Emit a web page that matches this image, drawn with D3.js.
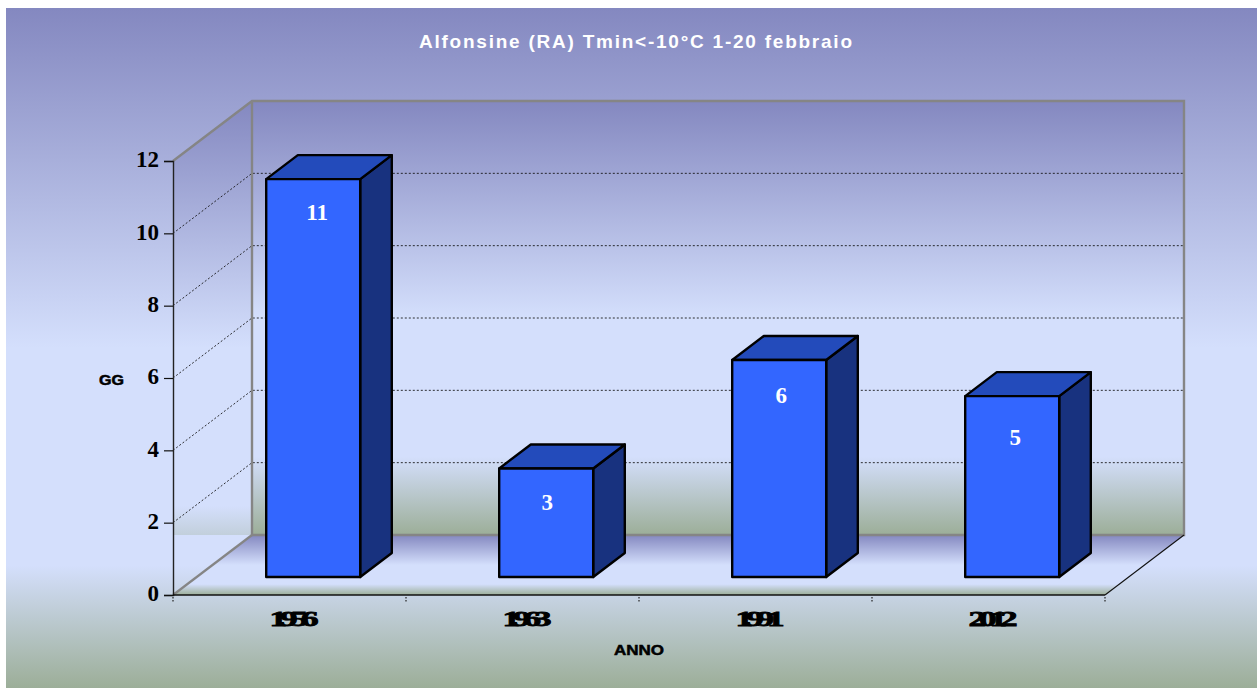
<!DOCTYPE html>
<html>
<head>
<meta charset="utf-8">
<script src="https://cdn.jsdelivr.net/npm/d3@7"></script>
<style>
html,body{margin:0;padding:0;background:#fff;overflow:hidden}
svg{display:block}
</style>
</head>
<body>
<svg id="chart" width="1257" height="688"></svg>
<script>
const categories = ["1956", "1963", "1991", "2012"];
const values = [11, 3, 6, 5];
const yTicks = [0, 2, 4, 6, 8, 10, 12];
const gridValues = [2, 4, 6, 8, 10];
const titleText = "Alfonsine (RA) Tmin<-10°C 1-20 febbraio";
const xTitle = "ANNO";
const yTitle = "GG";

const svg = d3.select("#chart");
const defs = svg.append("defs");
const BLUE = "#8488c0", LIGHT = "#d4dffc", GREEN = "#9cae98";

function gradient(id, y1, y2) {
  const g = defs.append("linearGradient").attr("id", id)
    .attr("gradientUnits", "userSpaceOnUse")
    .attr("x1", 0).attr("x2", 0).attr("y1", y1).attr("y2", y2);
  [[0, BLUE], [0.5, LIGHT], [0.82, LIGHT], [1, GREEN]].forEach(([o, c]) =>
    g.append("stop").attr("offset", o).attr("stop-color", c));
}
gradient("panel", 8, 688);
gradient("wall", 101, 535);
gradient("side", 101, 595);
gradient("floor", 535, 595);

svg.append("rect").attr("x", 6).attr("y", 8).attr("width", 1251).attr("height", 680).attr("fill", "url(#panel)");

// scales and oblique projection
const x = d3.scaleBand().domain(categories).range([173, 1105]).paddingInner(0.5966).paddingOuter(0.2983);
const y = d3.scaleLinear().domain([0, 12]).range([595, 161]);
const depthX = d3.scaleLinear().domain([0, 1]).range([0, 79]);
const depthY = d3.scaleLinear().domain([0, 1]).range([0, -60]);
const proj = (px, v, d) => [px + depthX(d), y(v) + depthY(d)];
const [xL, xR] = x.range();
const path = d3.line();
const closed = pts => path(pts) + "Z";

// floor
svg.append("path").attr("d", closed([proj(xL,0,0), proj(xL,0,1), proj(xR,0,1), proj(xR,0,0)])).attr("fill", "url(#floor)");
// side wall (painted only above the floor line)
const sideTopBack = proj(xL,12,1), sideBotBack = proj(xL,0,1);
svg.append("path").attr("d", closed([proj(xL,12,0), sideTopBack, sideBotBack, [xL, sideBotBack[1]]])).attr("fill", "url(#side)");
// back wall
svg.append("path").attr("d", closed([proj(xL,12,1), proj(xR,12,1), proj(xR,0,1), proj(xL,0,1)])).attr("fill", "url(#wall)");

// gridlines
svg.append("g").selectAll("path").data(gridValues).join("path")
  .attr("d", v => path([proj(xL,v,0), proj(xL,v,1), proj(xR,v,1)]))
  .attr("fill", "none").attr("stroke", "#111").attr("stroke-opacity", 0.85).attr("stroke-width", 1).attr("stroke-dasharray", "2,2");

// wall frame
const GREY = "#858585";
svg.append("path").attr("d", path([proj(xL,12,0), proj(xL,12,1), proj(xR,12,1), proj(xR,0,1), proj(xL,0,1), proj(xL,12,1)]))
  .attr("fill", "none").attr("stroke", GREY).attr("stroke-width", 2.4);
svg.append("path").attr("d", path([proj(xL,0,0), proj(xL,0,1)])).attr("fill", "none").attr("stroke", GREY).attr("stroke-width", 2.2);
svg.append("path").attr("d", path([proj(xR,0,0), proj(xR,0,1)])).attr("fill", "none").attr("stroke", "#111").attr("stroke-width", 1.1);

// axes
const yAxis = svg.append("g").attr("transform", `translate(${xL},0)`)
  .call(d3.axisLeft(y).tickValues(yTicks).tickSize(9).tickPadding(5).tickFormat(d3.format("d")));
yAxis.select(".domain").attr("stroke", "#222").attr("stroke-width", 1.4);
yAxis.selectAll(".tick line").attr("stroke", "#111").attr("stroke-width", 1.2);
yAxis.selectAll(".tick text").attr("font-family", "'Liberation Serif', serif").attr("font-weight", "bold")
  .attr("font-size", 23).attr("fill", "#000").attr("dy", "0.25em");

svg.append("path").attr("d", path([proj(xL,0,0), proj(xR,0,0)])).attr("stroke", "#111").attr("stroke-width", 1.4).attr("fill", "none");
const step = x.step();
svg.append("g").selectAll("line").data(d3.range(categories.length + 1)).join("line")
  .attr("x1", i => xL + i * step).attr("x2", i => xL + i * step)
  .attr("y1", y(0) + 2).attr("y2", y(0) + 7)
  .attr("stroke", "#222").attr("stroke-width", 1.2).attr("stroke-dasharray", "1.5,1.5");

// bars
const D0 = 0.3, D1 = 0.7;
const bars = svg.append("g").selectAll("g").data(categories.map((c, i) => ({c, v: values[i]}))).join("g")
  .attr("stroke", "#000").attr("stroke-width", 2.4).attr("stroke-linejoin", "round");
bars.append("path").attr("fill", "#18327f").attr("d", d => {
  const r = x(d.c) + x.bandwidth();
  return closed([proj(r,0,D0), proj(r,0,D1), proj(r,d.v,D1), proj(r,d.v,D0)]);
});
bars.append("path").attr("fill", "#234bbb").attr("d", d => {
  const l = x(d.c), r = l + x.bandwidth();
  return closed([proj(l,d.v,D0), proj(l,d.v,D1), proj(r,d.v,D1), proj(r,d.v,D0)]);
});
bars.append("path").attr("fill", "#3366ff").attr("d", d => {
  const l = x(d.c), r = l + x.bandwidth();
  return closed([proj(l,0,D0), proj(r,0,D0), proj(r,d.v,D0), proj(l,d.v,D0)]);
});

// value labels
const labelNudgeX = [4, 1, 2, 3], labelDrop = [41, 41.5, 43, 49];
svg.append("g").selectAll("text").data(values).join("text")
  .attr("x", (v, i) => proj(x(categories[i]) + x.bandwidth() / 2, v, D0)[0] + labelNudgeX[i])
  .attr("y", (v, i) => proj(0, v, D0)[1] + labelDrop[i])
  .attr("text-anchor", "middle").attr("fill", "#fff")
  .attr("font-family", "'Liberation Serif', serif").attr("font-weight", "bold").attr("font-size", 23)
  .text(v => v);

// squeezed category labels
svg.append("g").selectAll("text").data(categories).join("text")
  .attr("transform", c => `translate(${x(c) + x.bandwidth() / 2 + 1},626) scale(1.6,1)`)
  .attr("text-anchor", "middle").attr("fill", "#000")
  .attr("font-family", "'Liberation Serif', serif").attr("font-weight", "bold").attr("font-size", 22)
  .attr("letter-spacing", "-4.4px").attr("stroke", "#000").attr("stroke-width", 0.8)
  .text(c => c);

// titles
svg.append("text").attr("x", 419).attr("y", 48).attr("textLength", 433).attr("lengthAdjust", "spacing")
  .attr("fill", "#fff").attr("font-family", "'Liberation Sans', sans-serif").attr("font-weight", "bold").attr("font-size", 19)
  .text(titleText);
svg.append("text").attr("x", 614).attr("y", 654.5).attr("textLength", 50).attr("lengthAdjust", "spacingAndGlyphs")
  .attr("fill", "#000").attr("stroke", "#000").attr("stroke-width", 0.5)
  .attr("font-family", "'Liberation Sans', sans-serif").attr("font-weight", "bold").attr("font-size", 14)
  .text(xTitle);
svg.append("text").attr("x", 99).attr("y", 384.5).attr("textLength", 25).attr("lengthAdjust", "spacingAndGlyphs")
  .attr("fill", "#000").attr("stroke", "#000").attr("stroke-width", 0.5)
  .attr("font-family", "'Liberation Sans', sans-serif").attr("font-weight", "bold").attr("font-size", 14)
  .text(yTitle);
</script>
</body>
</html>
